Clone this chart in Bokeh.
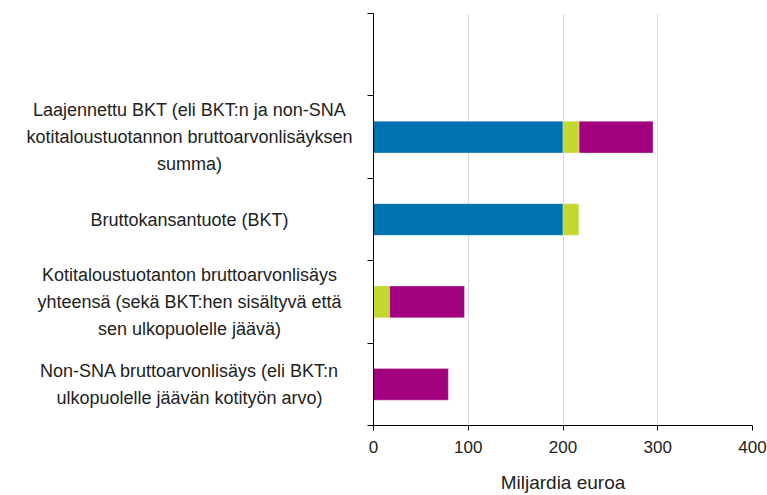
from bokeh.plotting import figure
from bokeh.layouts import row
from bokeh.models import ColumnDataSource, Range1d, FixedTicker
from bokeh.core.properties import value
from bokeh.embed import file_html
from bokeh.resources import INLINE

# ---- data (bottom to top) ----
categories = [
    "Non-SNA bruttoarvonlisäys (eli BKT:n\nulkopuolelle jäävän kotityön arvo)",
    "Kotitaloustuotanton bruttoarvonlisäys\nyhteensä (sekä BKT:hen sisältyvä että\nsen ulkopuolelle jäävä)",
    "Bruttokansantuote (BKT)",
    "Laajennettu BKT (eli BKT:n ja non-SNA\nkotitaloustuotannon bruttoarvonlisäyksen\nsumma)",
]
bkt_muu = [0, 0, 200, 200]        # blue
koti_bkt = [0, 17, 17, 17]        # green
non_sna = [79, 79, 0, 78]         # purple
x_ticks = [0, 100, 200, 300, 400]
n_slots = 5                        # top slot is empty

colors = ["#0072b0", "#c3d82e", "#a2007e"]
FONT = "Liberation Sans"
TXT = "#222222"

H = 495
TOP, BOTTOM = 13, 66
LEFT_W = 365
RIGHT_W = 402

ys = [i + 0.5 for i in range(len(categories))]
src = ColumnDataSource(dict(y=ys, bkt_muu=bkt_muu, koti_bkt=koti_bkt, non_sna=non_sna))
lab_src = ColumnDataSource(dict(y=ys, text=categories, x=[189] * len(categories)))

yr = Range1d(0, n_slots)

# ---- label panel ----
lp = figure(width=LEFT_W, height=H, x_range=Range1d(0, LEFT_W), y_range=yr,
            output_backend="svg", toolbar_location=None,
            x_axis_location=None, y_axis_location=None,
            min_border_left=0, min_border_right=0,
            min_border_top=TOP, min_border_bottom=BOTTOM)
lp.outline_line_color = None
lp.grid.visible = False
lp.text(x="x", y="y", text="text", source=lab_src, text_align="center",
        text_baseline="middle", text_font=value(FONT), text_font_size="18px",
        text_line_height=1.36, text_color=TXT)

# ---- chart ----
p = figure(width=RIGHT_W, height=H, x_range=Range1d(0, 400), y_range=yr,
           output_backend="svg", toolbar_location=None,
           min_border_left=8, min_border_right=15,
           min_border_top=TOP, min_border_bottom=BOTTOM)
p.outline_line_color = None

p.hbar_stack(["bkt_muu", "koti_bkt", "non_sna"], y="y", height=0.385,
             color=colors, line_color="white", line_alpha=0.5, line_width=0.6,
             source=src)

p.ygrid.visible = False
p.xgrid.ticker = FixedTicker(ticks=x_ticks[1:])
p.xgrid.grid_line_color = "#d9d9d9"
p.xgrid.grid_line_width = 1

xa = p.xaxis[0]
xa.ticker = FixedTicker(ticks=x_ticks)
xa.axis_label = "Miljardia euroa"
xa.axis_label_text_font = FONT
xa.axis_label_text_font_size = "19px"
xa.axis_label_text_font_style = "normal"
xa.axis_label_text_color = TXT
xa.axis_label_standoff = 16
xa.major_label_text_font = FONT
xa.major_label_text_font_size = "17px"
xa.major_label_text_color = TXT
xa.major_label_standoff = 10
xa.major_tick_out = 5
xa.major_tick_in = 0
xa.minor_tick_line_color = None
xa.axis_line_color = "black"
xa.major_tick_line_color = "black"

ya = p.yaxis[0]
ya.ticker = FixedTicker(ticks=[], minor_ticks=list(range(n_slots + 1)))
ya.minor_tick_out = 6
ya.minor_tick_in = 0
ya.minor_tick_line_color = "black"
ya.major_tick_line_color = None
ya.axis_line_color = "black"

layout = row(lp, p)
open("out.html", "w").write(file_html(layout, INLINE))
